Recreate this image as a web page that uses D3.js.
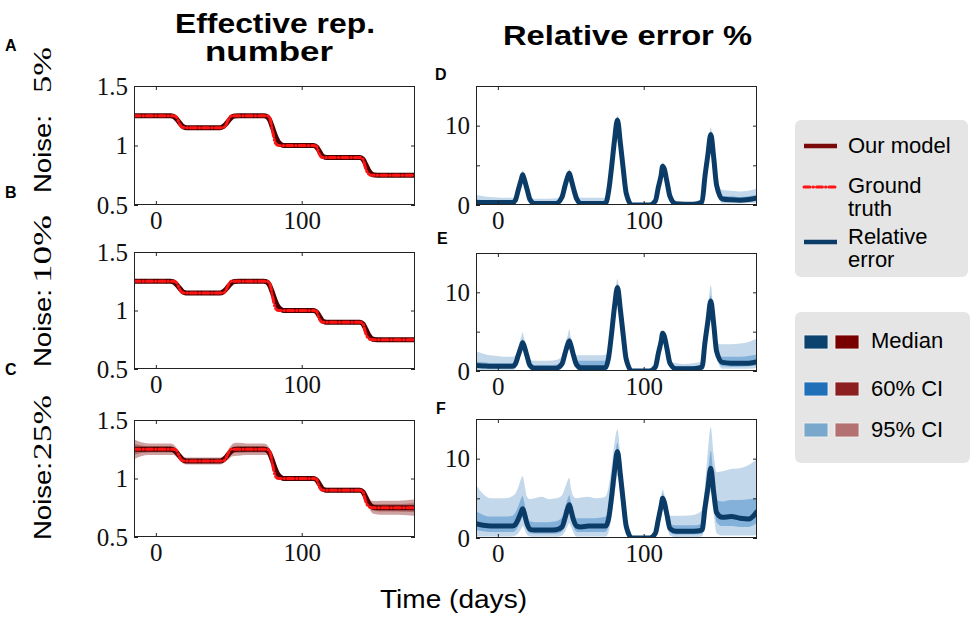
<!DOCTYPE html>
<html><head><meta charset="utf-8">
<script src="https://cdn.jsdelivr.net/npm/d3@7"></script>
<style>body{margin:0;background:#fff}svg{display:block}</style>
</head><body>
<svg id="c" width="976" height="620"></svg>
<script>
// ---------------- data ----------------
const days = [-15,-10,-5,0,5,10,12,14,16,17,18,20,22,25,30,35,40,44,46,48,49,50,52,54,57,62,67,72,74,76,78,80,82,84,86,88,92,96,100,104,108,110,112,113,114,116,118,122,128,134,140,142,144,146,148,150,154,160,166,172,178];

const rtTruth = [1.25,1.25,1.25,1.25,1.25,1.25,1.25,1.24,1.19,1.165,1.155,1.15,1.15,1.15,1.15,1.15,1.15,1.15,1.15,1.17,1.2,1.225,1.25,1.25,1.25,1.25,1.25,1.25,1.25,1.25,1.235,1.12,1.02,1.0,1.0,1.0,1.0,1.0,1.0,1.0,1.0,0.995,0.93,0.91,0.9,0.9,0.9,0.9,0.9,0.9,0.9,0.885,0.8,0.76,0.75,0.75,0.75,0.75,0.75,0.75,0.75];

const rtModel = [1.25,1.25,1.25,1.25,1.25,1.25,1.245,1.225,1.195,1.18,1.165,1.152,1.15,1.15,1.15,1.15,1.15,1.15,1.158,1.18,1.195,1.21,1.238,1.248,1.25,1.25,1.25,1.25,1.25,1.245,1.215,1.15,1.08,1.03,1.008,1.0,1.0,1.0,1.0,1.0,1.0,0.99,0.955,0.935,0.915,0.902,0.9,0.9,0.9,0.9,0.9,0.885,0.84,0.79,0.76,0.752,0.75,0.75,0.75,0.75,0.75];

// half-widths of the credible intervals of the model (noise 25%)
const rtHalf95C = [0.085,0.06,0.05,0.05,0.05,0.05,0.045,0.04,0.035,0.032,0.03,0.03,0.03,0.03,0.03,0.03,0.03,0.03,0.03,0.035,0.04,0.045,0.05,0.055,0.055,0.05,0.05,0.05,0.05,0.045,0.04,0.035,0.03,0.02,0.015,0.015,0.015,0.015,0.015,0.015,0.015,0.015,0.015,0.015,0.02,0.02,0.02,0.02,0.02,0.02,0.02,0.02,0.03,0.04,0.05,0.055,0.06,0.06,0.06,0.065,0.07];
const rtHalf60C = [0.045,0.032,0.027,0.027,0.027,0.027,0.024,0.022,0.019,0.017,0.016,0.016,0.016,0.016,0.016,0.016,0.016,0.016,0.016,0.019,0.022,0.024,0.027,0.03,0.03,0.027,0.027,0.027,0.027,0.024,0.022,0.019,0.016,0.011,0.008,0.008,0.008,0.008,0.008,0.008,0.008,0.008,0.008,0.008,0.011,0.011,0.011,0.011,0.011,0.011,0.011,0.011,0.016,0.022,0.027,0.03,0.032,0.032,0.032,0.035,0.038];

// relative error %, noise 5%
const errMedD = [0.35,0.3,0.3,0.3,0.3,0.3,0.6,1.9,3.2,3.8,3.3,2.0,0.7,0.2,0.2,0.2,0.2,1.0,2.4,3.6,4.0,3.4,2.0,0.8,0.2,0.2,0.2,0.2,0.25,1.8,4.8,8.2,10.7,7.8,4.5,1.5,0,0,0,0,0.5,2.2,3.8,4.9,4.6,2.9,1.1,0.15,0.1,0.1,0.4,3.6,6.3,8.9,6.0,2.5,0.75,0.65,0.6,0.7,0.9];
const errLo95D = [0.05,0.05,0.05,0.05,0.05,0.05,0.2,1.3,2.5,3.1,2.7,1.4,0.3,0.05,0.05,0.05,0.05,0.5,1.8,2.9,3.3,2.8,1.4,0.3,0.05,0.05,0.05,0.05,0.05,1.2,4.0,7.3,9.8,7.0,3.8,1.0,0,0,0,0,0.2,1.6,3.1,4.2,3.9,2.3,0.7,0.02,0.02,0.02,0.2,2.8,5.5,7.8,5.1,1.8,0.2,0.2,0.2,0.25,0.3];
const errHi95D = [1.3,1.1,1.0,0.95,0.9,0.9,1.2,2.3,3.8,4.4,3.9,2.3,1.0,0.8,0.8,0.8,0.85,1.4,2.9,4.1,4.6,4.0,2.4,1.1,0.9,0.9,0.9,0.9,0.95,2.3,5.3,8.8,11.3,8.5,5.0,1.9,0,0,0,0,0.7,2.6,4.3,5.4,5.1,3.3,1.4,0.4,0.35,0.35,0.6,4.2,7.0,9.8,6.9,3.2,1.9,1.8,1.7,1.8,2.1];
const errLo60D = [0.2,0.15,0.15,0.15,0.15,0.15,0.4,1.6,2.9,3.5,3.0,1.7,0.5,0.1,0.1,0.1,0.1,0.8,2.1,3.3,3.7,3.1,1.7,0.6,0.1,0.1,0.1,0.1,0.1,1.5,4.5,7.8,10.3,7.4,4.2,1.3,0,0,0,0,0.3,1.9,3.5,4.6,4.3,2.6,0.9,0.05,0.05,0.05,0.3,3.2,5.9,8.4,5.6,2.2,0.5,0.4,0.4,0.45,0.6];
const errHi60D = [0.6,0.5,0.5,0.5,0.45,0.45,0.8,2.1,3.5,4.1,3.6,2.2,0.85,0.4,0.4,0.4,0.4,1.2,2.6,3.9,4.3,3.7,2.2,1.0,0.4,0.4,0.4,0.4,0.45,2.0,5.0,8.5,11.0,8.2,4.8,1.7,0,0,0,0,0.6,2.4,4.0,5.1,4.8,3.1,1.3,0.25,0.2,0.2,0.5,3.9,6.6,9.3,6.4,2.8,1.1,1.1,1.0,1.1,1.3];

// relative error %, noise 10%
const errMedE = [0.7,0.65,0.6,0.6,0.6,0.6,0.9,2.0,3.1,3.6,3.2,1.9,0.7,0.35,0.35,0.35,0.35,0.9,2.2,3.4,3.8,3.3,1.9,0.8,0.4,0.4,0.4,0.4,0.45,1.8,4.8,8.2,10.6,7.8,4.5,1.5,0,0,0,0,0.5,2.2,3.8,4.8,4.5,2.8,1.0,0.3,0.3,0.3,0.5,3.6,6.3,8.9,6.0,2.5,1.1,1.0,1.0,1.0,1.2];
const errLo95E = [0.1,0.1,0.1,0.1,0.1,0.1,0.3,1.3,2.3,2.8,2.5,1.2,0.2,0.05,0.05,0.05,0.05,0.4,1.6,2.6,3.0,2.6,1.3,0.3,0.05,0.05,0.05,0.05,0.05,1.1,4.0,7.2,9.6,6.9,3.7,1.0,0,0,0,0,0.2,1.6,3.1,4.0,3.8,2.2,0.6,0.05,0.05,0.05,0.2,2.8,5.3,7.6,5.0,1.7,0.3,0.3,0.3,0.3,0.4];
const errHi95E = [2.5,2.2,2.0,1.9,1.8,1.8,2.0,3.0,4.4,4.9,4.2,2.4,1.4,1.3,1.3,1.3,1.4,1.9,3.5,4.6,5.3,4.3,2.6,2.0,2.0,2.0,2.0,2.0,2.1,2.7,5.6,9.2,11.7,8.6,5.0,1.8,0,0,0,0,0.8,2.6,4.4,5.2,4.9,3.2,1.3,1.0,0.9,1.0,1.2,4.5,7.8,10.9,7.2,3.6,3.4,3.4,3.5,3.7,4.2];
const errLo60E = [0.4,0.35,0.35,0.35,0.35,0.35,0.6,1.7,2.7,3.2,2.8,1.5,0.4,0.15,0.15,0.15,0.15,0.6,1.9,3.0,3.4,2.9,1.6,0.5,0.2,0.2,0.2,0.2,0.2,1.5,4.4,7.7,10.0,7.3,4.1,1.2,0,0,0,0,0.3,1.9,3.4,4.4,4.1,2.5,0.8,0.15,0.15,0.15,0.3,3.2,5.8,8.2,5.5,2.1,0.6,0.55,0.55,0.6,0.7];
const errHi60E = [1.2,1.1,1.0,1.0,1.0,1.0,1.3,2.4,3.6,4.1,3.6,2.3,1.1,0.75,0.75,0.75,0.8,1.3,2.7,3.9,4.3,3.7,2.3,1.3,1.3,1.3,1.3,1.3,1.35,2.2,5.2,8.6,11.1,8.3,4.9,1.7,0,0,0,0,0.7,2.5,4.1,5.1,4.8,3.1,1.3,0.6,0.6,0.6,0.8,4.0,6.9,9.6,6.6,3.0,1.8,1.8,1.8,1.9,2.1];

// relative error %, noise 25%
const errMedF = [1.8,1.6,1.5,1.5,1.5,1.5,1.7,2.4,3.3,3.7,3.2,1.8,1.1,1.0,1.0,1.0,1.05,1.4,2.5,3.8,4.2,3.6,2.2,1.5,1.4,1.5,1.5,1.5,1.5,2.5,5.2,8.5,10.9,8.0,4.6,1.5,0,0,0,0,0.6,2.3,4.1,5.0,4.6,2.9,1.2,0.85,0.85,0.85,1.0,3.8,6.3,8.8,5.8,3.2,2.6,2.7,2.5,2.4,3.4];
const errLo95F = [0.2,0.2,0.2,0.2,0.2,0.2,0.3,0.6,1.2,1.5,1.2,0.4,0.2,0.15,0.15,0.15,0.15,0.3,0.8,1.6,1.9,1.5,0.6,0.2,0.2,0.2,0.2,0.2,0.2,0.8,2.8,5.5,7.8,5.2,2.2,0.4,0,0,0,0,0.1,1.2,2.8,3.6,3.2,1.6,0.3,0.1,0.1,0.1,0.2,1.6,3.8,5.8,3.0,0.6,0.3,0.3,0.3,0.3,0.4];
const errHi95F = [6.7,5.5,5.0,5.0,5.0,5.3,5.6,6.4,7.5,7.8,7.0,5.2,4.9,5.0,5.2,4.9,5.0,5.4,6.3,7.3,7.6,6.4,5.2,5.0,5.1,5.2,5.0,5.1,5.3,6.5,9.0,12.0,13.7,10.5,6.5,2.0,0,0,0,0,1.0,3.0,5.3,6.1,5.6,3.6,2.8,2.8,2.8,2.9,3.5,6.5,11.0,14.0,10.5,8.3,8.4,8.7,8.8,9.2,10.0];
const errLo60F = [1.0,0.85,0.75,0.75,0.75,0.75,0.9,1.5,2.3,2.7,2.3,1.0,0.6,0.55,0.55,0.55,0.55,0.8,1.6,2.7,3.1,2.6,1.3,0.8,0.75,0.75,0.75,0.75,0.8,1.6,4.0,7.0,9.4,6.7,3.4,0.9,0,0,0,0,0.3,1.7,3.4,4.3,3.9,2.2,0.7,0.45,0.45,0.45,0.5,2.8,5.0,7.3,4.5,2.0,1.5,1.5,1.4,1.4,2.0];
const errHi60F = [3.4,2.9,2.7,2.7,2.7,2.8,3.2,4.0,5.0,5.3,4.6,2.9,2.1,2.0,2.0,2.0,2.1,2.6,3.8,5.0,5.4,4.6,3.1,2.5,2.5,2.5,2.5,2.6,2.7,3.6,6.5,9.8,12.0,9.0,5.5,1.8,0,0,0,0,0.8,2.7,4.8,5.6,5.1,3.3,1.7,1.6,1.6,1.6,1.8,4.8,8.0,11.0,7.5,4.8,4.6,4.8,4.8,4.9,5.0];

const noiseNumbers = ["5%", "10%", "25%"];
const leftLetters = ["A", "B", "C"];
const rightLetters = ["D", "E", "F"];
const dayTicks = [0, 100];
const rtTicks = [0.5, 1, 1.5];
const errTicks = [0, 5, 10];
const errLabelled = [0, 10];
const legendBands = ["Median", "60% CI", "95% CI"];

// ---------------- layout / style ----------------
const svg = d3.select("#c");
const C = {
  frame: "#222",
  modelLine: "#4a0000",
  truth: "#ff1414",
  red95: "#cfa2a2", red60: "#b36a6a",
  blueLine: "#0b3c68",
  blue95: "#c3d8ea", blue60: "#84b1d9",
  legBg: "#e5e5e5",
  legBlue: ["#0c426e", "#1f70b8", "#7aa8cc"],
  legRed: ["#790000", "#8c2020", "#b37171"]
};
const xDom = [-15, 177.7];
const leftX = d3.scaleLinear().domain(xDom).range([134, 415]);
const rightX = d3.scaleLinear().domain(xDom).range([476, 757]);
// [top, bottom] pixel rows
const leftRows = [[86, 205], [252, 369], [420, 537]];
const rightRows = [[86, 205], [253, 371], [419, 538]];
const serif = "'Liberation Serif','Times New Roman',serif";
const sans = "'Liberation Sans',Arial,Helvetica,sans-serif";

const defs = svg.append("defs");
let clipId = 0;

function panel(x, y, yTicks, fmt) {
  const g = svg.append("g");
  const [x0, x1] = x.range();
  const [yb, yt] = y.range();
  const id = "clip" + (clipId++);
  defs.append("clipPath").attr("id", id).append("rect")
    .attr("x", x0).attr("y", yt).attr("width", x1 - x0).attr("height", yb - yt);
  const plot = g.append("g").attr("clip-path", `url(#${id})`);
  const axes = g.append("g");
  const styleAxis = sel => {
    sel.select(".domain").remove();
    sel.selectAll(".tick line").attr("stroke", C.frame).attr("stroke-width", 1);
    sel.selectAll(".tick text").attr("fill", "#111").style("font-family", serif).style("font-size", "25px");
  };
  axes.append("g").attr("transform", `translate(0,${yb})`)
    .call(d3.axisBottom(x).tickValues(dayTicks).tickSizeInner(-4).tickSizeOuter(0).tickPadding(6)).call(styleAxis);
  axes.append("g").attr("transform", `translate(0,${yt})`)
    .call(d3.axisTop(x).tickValues(dayTicks).tickSizeInner(-4).tickSizeOuter(0).tickFormat("")).call(styleAxis);
  axes.append("g").attr("transform", `translate(${x0},0)`)
    .call(d3.axisLeft(y).tickValues(yTicks).tickSizeInner(-4).tickSizeOuter(0).tickPadding(6).tickFormat(fmt)).call(styleAxis);
  axes.append("g").attr("transform", `translate(${x1},0)`)
    .call(d3.axisRight(y).tickValues(yTicks).tickSizeInner(-4).tickSizeOuter(0).tickFormat("")).call(styleAxis);
  axes.append("rect").attr("x", x0 + 0.5).attr("y", yt + 0.5).attr("width", x1 - x0 - 1).attr("height", yb - yt - 1)
    .attr("fill", "none").attr("stroke", C.frame).attr("stroke-width", 1);
  return plot;
}

function band(plot, x, y, lo, hi, color) {
  const area = d3.area().x((d, i) => x(days[i])).y0((d, i) => y(lo[i])).y1((d, i) => y(hi[i])).curve(d3.curveMonotoneX);
  plot.append("path").datum(days).attr("d", area).attr("fill", color);
}
function line(plot, x, y, vals, color, width, dash) {
  const ln = d3.line().x((d, i) => x(days[i])).y(d => y(d)).curve(d3.curveMonotoneX);
  const p = plot.append("path").datum(vals).attr("d", ln).attr("fill", "none")
    .attr("stroke", color).attr("stroke-width", width).attr("stroke-linejoin", "round");
  if (dash) p.attr("stroke-dasharray", dash).attr("stroke-linecap", "round");
  return p;
}

// ---- left column: effective reproduction number ----
const rtBands = [null, null, [rtHalf95C, rtHalf60C]];
leftRows.forEach((r, k) => {
  const y = d3.scaleLinear().domain([0.5, 1.5]).range([r[1], r[0]]);
  const plot = panel(leftX, y, rtTicks, d => String(d));
  if (rtBands[k]) {
    const [h95, h60] = rtBands[k];
    band(plot, leftX, y, rtModel.map((m, i) => m - h95[i]), rtModel.map((m, i) => m + h95[i]), C.red95);
    band(plot, leftX, y, rtModel.map((m, i) => m - h60[i]), rtModel.map((m, i) => m + h60[i]), C.red60);
  }
  line(plot, leftX, y, rtModel, C.modelLine, 5);
  line(plot, leftX, y, rtTruth, C.truth, 3, "6,3,0.5,3");
});

// ---- right column: relative error ----
const errSets = [
  [errMedD, errLo60D, errHi60D, errLo95D, errHi95D],
  [errMedE, errLo60E, errHi60E, errLo95E, errHi95E],
  [errMedF, errLo60F, errHi60F, errLo95F, errHi95F]
];
rightRows.forEach((r, k) => {
  const y = d3.scaleLinear().domain([0, 15]).range([r[1], r[0]]);
  const plot = panel(rightX, y, errTicks, d => errLabelled.includes(d) ? String(d) : "");
  const [med, lo60, hi60, lo95, hi95] = errSets[k];
  band(plot, rightX, y, lo95, hi95, C.blue95);
  band(plot, rightX, y, lo60, hi60, C.blue60);
  line(plot, rightX, y, med, C.blueLine, 5);
});

// ---- titles & labels ----
function txt(x, y, s, o) {
  const t = svg.append("text").attr("x", x).attr("y", y).text(s)
    .style("font-family", o.family || sans).style("font-size", o.size + "px")
    .style("font-weight", o.weight || "normal").attr("fill", o.fill || "#000")
    .attr("text-anchor", o.anchor || "start");
  if (o.len) t.attr("textLength", o.len).attr("lengthAdjust", "spacingAndGlyphs");
  if (o.rot) t.attr("transform", `rotate(-90,${x},${y})`);
  return t;
}
txt(275, 33, "Effective rep.", { size: 27, weight: "bold", anchor: "middle", len: 200 });
txt(269, 61, "number", { size: 27, weight: "bold", anchor: "middle", len: 128 });
txt(627.5, 45, "Relative error %", { size: 28, weight: "bold", anchor: "middle", len: 249 });
txt(453.5, 608, "Time (days)", { size: 25, anchor: "middle", len: 147 });

const letterPosL = [[5, 51], [5, 198], [5, 375]];
const letterPosR = [[435, 80], [437, 244], [436, 414]];
leftLetters.forEach((s, i) => txt(letterPosL[i][0], letterPosL[i][1], s, { size: 16, weight: "bold" }));
rightLetters.forEach((s, i) => txt(letterPosR[i][0], letterPosR[i][1], s, { size: 16, weight: "bold" }));

// rotated row labels
const noisePos = [
  { base: 193, numStart: 93, numLen: 46 },
  { base: 367, numStart: 283, numLen: 68 },
  { base: 540, numStart: 460, numLen: 65 }
];
noiseNumbers.forEach((s, i) => {
  const p = noisePos[i];
  txt(51, p.base, "Noise:", { size: 23, rot: true, len: 78 });
  txt(51, p.numStart, s, { size: 26, family: serif, rot: true, len: p.numLen });
});

// ---- legends ----
svg.append("rect").attr("x", 795).attr("y", 120).attr("width", 173).attr("height", 157).attr("rx", 6).attr("fill", C.legBg);
const leg1 = [
  { y: 146, color: "#7a0a0a", dash: null, lines: [["Our model", 153]] },
  { y: 187, color: C.truth, dash: "6,3,0.5,3", lines: [["Ground", 193], ["truth", 216]] },
  { y: 242, color: C.blueLine, dash: null, lines: [["Relative", 244], ["error", 267]] }
];
leg1.forEach(it => {
  const l = svg.append("line").attr("x1", 804).attr("x2", 837).attr("y1", it.y).attr("y2", it.y)
    .attr("stroke", it.color).attr("stroke-width", it.dash ? 3 : 4.5);
  if (it.dash) l.attr("stroke-dasharray", it.dash).attr("stroke-linecap", "round");
  it.lines.forEach(([s, by]) => txt(848, by, s, { size: 22 }));
});

svg.append("rect").attr("x", 795).attr("y", 312).attr("width", 175).attr("height", 151).attr("rx", 6).attr("fill", C.legBg);
const leg2Y = [335, 382, 423];
const leg2Base = [348, 396, 437];
legendBands.forEach((s, i) => {
  svg.append("rect").attr("x", 804).attr("y", leg2Y[i]).attr("width", 24).attr("height", 14)
    .attr("fill", C.legBlue[i]).attr("stroke", "#f4f4f4").attr("stroke-width", 0.8);
  svg.append("rect").attr("x", 835).attr("y", leg2Y[i]).attr("width", 24).attr("height", 14)
    .attr("fill", C.legRed[i]).attr("stroke", "#f4f4f4").attr("stroke-width", 0.8);
  txt(871, leg2Base[i], s, { size: 22 });
});
</script>
</body></html>
